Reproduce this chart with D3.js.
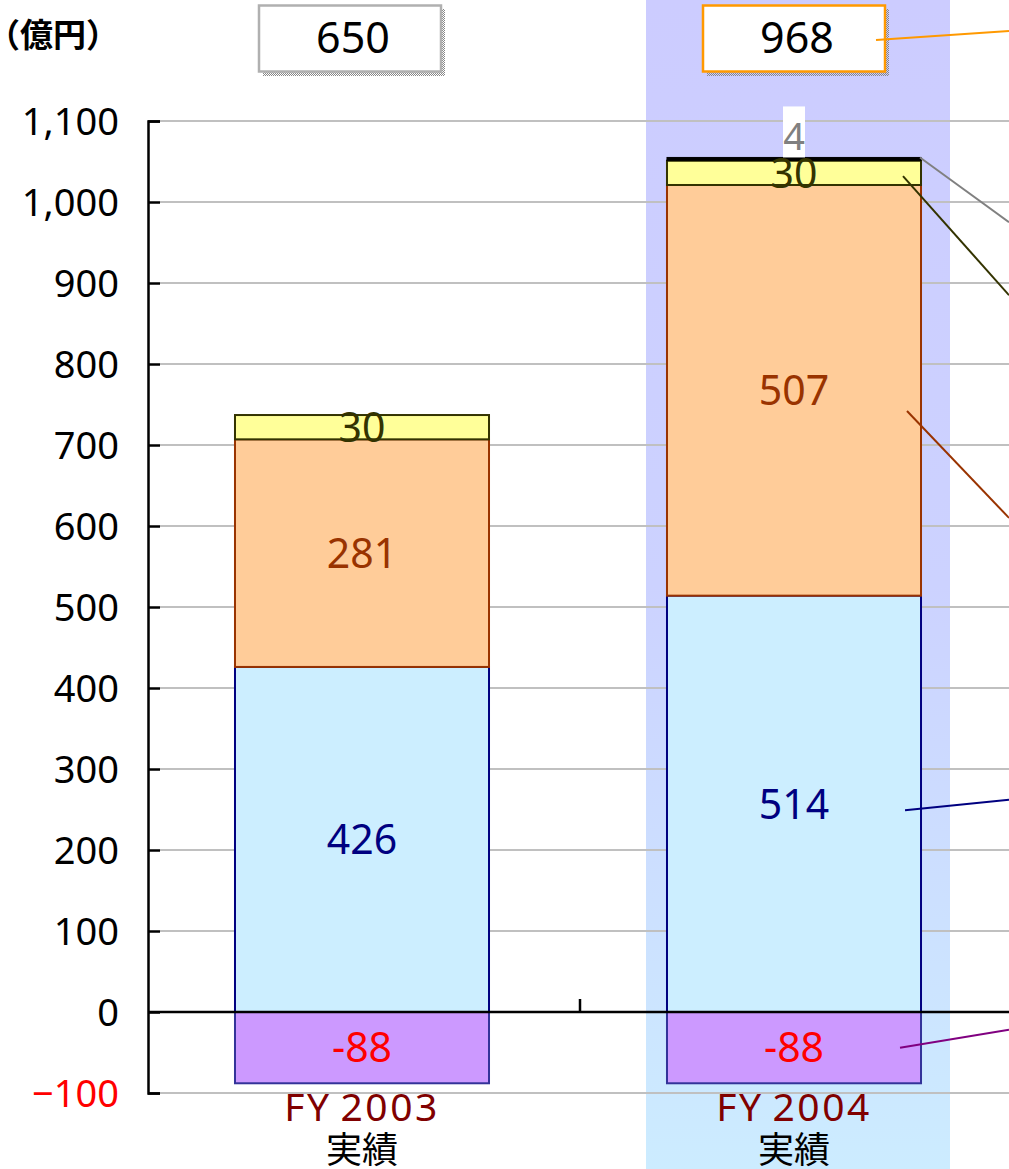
<!DOCTYPE html>
<html lang="ja">
<head>
<meta charset="UTF-8">
<title>億円 chart</title>
<script src="https://d3js.org/d3.v7.min.js"></script>
<style>
  body { margin: 0; background: #fff; }
  text { font-family: "Noto Sans", "Noto Sans CJK JP", sans-serif; }
  .jp { font-family: "Noto Sans CJK JP", sans-serif; }
</style>
</head>
<body>
<script>
// data
var categories = ["FY2003", "FY2004"];
var subLabels = ["実績", "実績"];
var boxTotals = [650, 968];
var seriesNames = ["neg", "blue", "orange", "yellow", "black"];
var negValues = [-88, -88];
var blueValues = [426, 514];
var orangeValues = [281, 507];
var yellowValues = [30, 30];
var blackValues = [0, 4];
var yTicks = [-100, 0, 100, 200, 300, 400, 500, 600, 700, 800, 900, 1000, 1100];

var W = 1009, H = 1169;
var svg = d3.select("body").append("svg").attr("width", W).attr("height", H);

var defs = svg.append("defs");
var grad = defs.append("linearGradient").attr("id", "colbg")
    .attr("x1", 0).attr("y1", 0).attr("x2", 0).attr("y2", 1);
grad.append("stop").attr("offset", "0%").attr("stop-color", "#ccccff");
grad.append("stop").attr("offset", "50%").attr("stop-color", "#ccd2ff");
grad.append("stop").attr("offset", "100%").attr("stop-color", "#ccecff");
var pat = defs.append("pattern").attr("id", "shadow").attr("width", 2).attr("height", 2)
    .attr("patternUnits", "userSpaceOnUse");
pat.append("rect").attr("width", 1).attr("height", 1).attr("fill", "#888");
pat.append("rect").attr("x", 1).attr("y", 1).attr("width", 1).attr("height", 1).attr("fill", "#888");

var x = d3.scaleBand().domain(categories).range([146, 1010])
    .paddingInner(0.412).paddingOuter(0.206);
var y = d3.scaleLinear().domain([-100, 1100]).range([1093, 121]);
var bw = x.bandwidth();
var cx = function (c) { return x(c) + bw / 2; };

// highlighted column behind FY2004
svg.append("rect")
    .attr("x", cx("FY2004") - 148).attr("y", 0)
    .attr("width", 304).attr("height", H)
    .attr("fill", "url(#colbg)");

// grid
svg.append("g").selectAll("line").data(yTicks.filter(function (t) { return t !== 0; }))
  .enter().append("line")
    .attr("x1", 160).attr("x2", W)
    .attr("y1", function (d) { return y(d); }).attr("y2", function (d) { return y(d); })
    .attr("stroke", "#c0c0c0").attr("stroke-width", 2);

// y axis
var yAxis = svg.append("g").attr("transform", "translate(148,0)")
    .call(d3.axisRight(y).tickValues(yTicks).tickSize(12).tickFormat(""));
yAxis.select(".domain").attr("stroke", "#000").attr("stroke-width", 2.5);
yAxis.selectAll(".tick line").attr("stroke", "#000").attr("stroke-width", 2.5);

svg.append("g").selectAll("text").data(yTicks).enter().append("text")
    .attr("x", 119).attr("y", function (d) { return y(d); })
    .attr("dy", "0.36em").attr("text-anchor", "end")
    .attr("font-size", 38)
    .attr("fill", function (d) { return d < 0 ? "#ff0000" : "#000"; })
    .text(function (d) { return d3.format(",")(d); });

// stacks
var rows = categories.map(function (c, i) {
  return { cat: c, neg: negValues[i], blue: blueValues[i], orange: orangeValues[i],
           yellow: yellowValues[i], black: blackValues[i] };
});
var stacked = d3.stack().keys(seriesNames.slice(1))(rows);
var fills = { neg: "#cc99ff", blue: "#cceeff", orange: "#ffcc99", yellow: "#ffff99", black: "#000000" };
var strokes = { neg: "#333399", blue: "#000080", orange: "#993300", yellow: "#333300", black: "#000000" };
var labelCol = { neg: "#ff0000", blue: "#000080", orange: "#993300", yellow: "#333300", black: "#808080" };

var segs = [];
rows.forEach(function (r) {
  segs.push({ key: "neg", cat: r.cat, y0: r.neg, y1: 0, v: r.neg });
});
stacked.forEach(function (s) {
  s.forEach(function (d) {
    if (d.data[s.key] > 0) segs.push({ key: s.key, cat: d.data.cat, y0: d[0], y1: d[1], v: d.data[s.key] });
  });
});

svg.append("g").selectAll("rect").data(segs).enter().append("rect")
    .attr("x", function (d) { return x(d.cat); })
    .attr("width", bw)
    .attr("y", function (d) { return y(Math.max(d.y0, d.y1)); })
    .attr("height", function (d) { return Math.abs(y(d.y0) - y(d.y1)); })
    .attr("fill", function (d) { return fills[d.key]; })
    .attr("stroke", function (d) { return strokes[d.key]; })
    .attr("stroke-width", function (d) { return d.key === "black" ? 1 : 2; });

// zero line
svg.append("line").attr("x1", 148).attr("x2", W).attr("y1", y(0)).attr("y2", y(0))
    .attr("stroke", "#000").attr("stroke-width", 2.5);
// category divider tick
svg.append("line").attr("x1", x.step() + 148).attr("x2", x.step() + 148)
    .attr("y1", y(0)).attr("y2", y(0) - 13).attr("stroke", "#000").attr("stroke-width", 2.5);

// segment labels
var lab = svg.append("g");
segs.forEach(function (d) {
  if (d.key === "black") {
    var ty = y(d.y1) - 21;
    lab.append("rect").attr("x", cx(d.cat) - 11).attr("y", ty - 30).attr("width", 22).attr("height", 51)
        .attr("fill", "#fff");
    lab.append("text").attr("x", cx(d.cat)).attr("y", ty).attr("dy", "0.36em")
        .attr("text-anchor", "middle").attr("font-size", 38).attr("fill", labelCol[d.key]).text(d.v);
    return;
  }
  lab.append("text").attr("x", cx(d.cat)).attr("y", y((d.y0 + d.y1) / 2))
      .attr("dy", "0.36em").attr("text-anchor", "middle").attr("font-size", 41)
      .attr("fill", labelCol[d.key]).text(d.v);
});

// leader lines from FY2004 segments off to the right
var leaders = [
  { from: 1055, to: 975, dx: -1, col: "#808080" },
  { from: 1032, to: 885, dx: -18, col: "#333300" },
  { from: 742, to: 610, dx: -14, col: "#993300" },
  { from: 249, to: 262, dx: -16, col: "#000080" },
  { from: -44, to: -22, dx: -21, col: "#800080" }
];
svg.append("g").selectAll("line").data(leaders).enter().append("line")
    .attr("x1", function (d) { return x("FY2004") + bw + d.dx; })
    .attr("x2", W)
    .attr("y1", function (d) { return y(d.from); })
    .attr("y2", function (d) { return y(d.to); })
    .attr("stroke", function (d) { return d.col; }).attr("stroke-width", 2);

// top boxes
var boxShift = function (i) { return i === 0 ? -12 : 0; };
var boxes = svg.append("g").selectAll("g").data(categories).enter().append("g");
boxes.append("rect")
    .attr("x", function (c, i) { return cx(c) + boxShift(i) - 87; }).attr("y", 9)
    .attr("width", 182).attr("height", 67).attr("fill", "url(#shadow)");
boxes.append("rect")
    .attr("x", function (c, i) { return cx(c) + boxShift(i) - 91; }).attr("y", 5.5)
    .attr("width", 182).attr("height", 66)
    .attr("fill", "#fff")
    .attr("stroke", function (c, i) { return i === 1 ? "#ff9900" : "#b0b0b0"; })
    .attr("stroke-width", 2.5);
boxes.append("text")
    .attr("x", function (c, i) { return cx(c) + boxShift(i) + 3; }).attr("y", 38)
    .attr("dy", "0.36em").attr("text-anchor", "middle").attr("font-size", 43)
    .text(function (c, i) { return boxTotals[i]; });
svg.append("line").attr("x1", cx("FY2004") + 82).attr("y1", 40)
    .attr("x2", W).attr("y2", 31).attr("stroke", "#ff9900").attr("stroke-width", 2);

// category labels
var cl = svg.append("g").selectAll("g").data(categories).enter().append("g");
cl.append("text").attr("x", function (c) { return cx(c); }).attr("y", 1121)
    .attr("text-anchor", "middle").attr("font-size", 39).attr("fill", "#800000")
    .attr("letter-spacing", 2.5)
    .text(function (c) { return c.replace("FY", "FY\u2009"); });
cl.append("text").attr("class", "jp").attr("x", function (c) { return cx(c); }).attr("y", 1163)
    .attr("text-anchor", "middle").attr("font-size", 36).attr("fill", "#000")
    .text(function (c, i) { return subLabels[i]; });

// unit
svg.append("text").attr("class", "jp").attr("x", -13).attr("y", 47)
    .attr("font-size", 33).attr("font-weight", "bold")
    .text("（億円）");
</script>
</body>
</html>
